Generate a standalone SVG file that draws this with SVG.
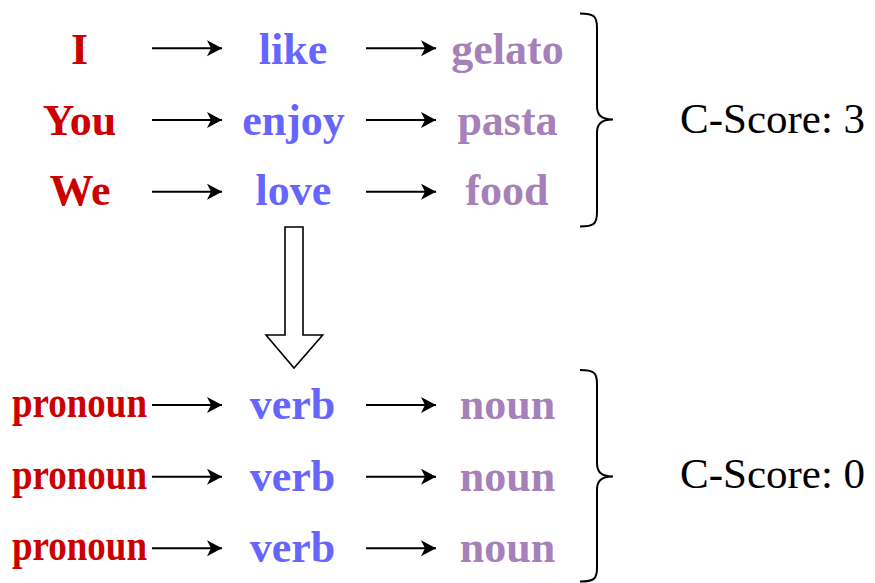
<svg xmlns="http://www.w3.org/2000/svg" width="875" height="583" viewBox="0 0 875 583">
<style>
text{font-family:"Liberation Serif","Times New Roman",serif;font-size:44px;text-anchor:middle}
.b{font-weight:bold}
.r{fill:#CC0000}
.u{fill:#6666FF}
.p{fill:#A680B8}
.s{fill:#000;font-size:43px;text-anchor:start}
.c{stroke:#000;stroke-width:2;fill:none;marker-end:url(#ah)}
.br{stroke:#000;stroke-width:2;fill:none}
</style>
<defs>
<marker id="ah" markerUnits="userSpaceOnUse" markerWidth="16" markerHeight="18" refX="15" refY="8" orient="auto">
<path d="M0,0 L15,8 L0,16 L4,8 Z" fill="#000"/>
</marker>
</defs>
<rect width="875" height="583" fill="#fff"/>
<g id="n-I"><text class="b r" x="79.5" y="63.5">I</text></g>
<g id="n-You"><text class="b r" x="79.5" y="134.5">You</text></g>
<g id="n-We"><text class="b r" x="80" y="205">We</text></g>
<g id="n-like"><text class="b u" x="293" y="63.5">like</text></g>
<g id="n-enjoy"><text class="b u" x="293.5" y="134.5">enjoy</text></g>
<g id="n-love"><text class="b u" x="293.5" y="205">love</text></g>
<g id="n-gelato"><text class="b p" x="507.5" y="63.5">gelato</text></g>
<g id="n-pasta"><text class="b p" x="507.5" y="134.5">pasta</text></g>
<g id="n-food"><text class="b p" x="507" y="205">food</text></g>
<g id="n-pronoun1"><text class="b r" x="79.5" y="417" textLength="135" lengthAdjust="spacingAndGlyphs">pronoun</text></g>
<g id="n-pronoun2"><text class="b r" x="79.5" y="488.5" textLength="135" lengthAdjust="spacingAndGlyphs">pronoun</text></g>
<g id="n-pronoun3"><text class="b r" x="79.5" y="560" textLength="135" lengthAdjust="spacingAndGlyphs">pronoun</text></g>
<g id="n-verb1"><text class="b u" x="292.5" y="419">verb</text></g>
<g id="n-verb2"><text class="b u" x="292.5" y="490.5">verb</text></g>
<g id="n-verb3"><text class="b u" x="292.5" y="562">verb</text></g>
<g id="n-noun1"><text class="b p" x="507.5" y="419">noun</text></g>
<g id="n-noun2"><text class="b p" x="507.5" y="490.5">noun</text></g>
<g id="n-noun3"><text class="b p" x="507.5" y="562">noun</text></g>
<g id="n-score3"><text class="s" x="680" y="132.5">C-Score: 3</text></g>
<g id="n-score0"><text class="s" x="680" y="487.5">C-Score: 0</text></g>
<g id="braces">
<path class="br" d="M580,13.5 C594,13.5 597,16 597,28 L597,106 C597,114 600,119.5 613,119.5 M613,119.5 C600,119.5 597,125 597,133 L597,212 C597,224 594,226.5 580,226.5"/>
<path class="br" d="M580,370 C594,370 597,372.5 597,384 L597,463 C597,471 600,476.5 613,476.5 M613,476.5 C600,476.5 597,482 597,490 L597,568 C597,579 594,581.5 580,581.5"/>
</g>
<g id="connectors">
<line class="c" x1="152" y1="48.3" x2="222" y2="48.3"/>
<line class="c" x1="152" y1="120" x2="222" y2="120"/>
<line class="c" x1="152" y1="191.7" x2="222" y2="191.7"/>
<line class="c" x1="366" y1="48.3" x2="436" y2="48.3"/>
<line class="c" x1="366" y1="120" x2="436" y2="120"/>
<line class="c" x1="366" y1="191.7" x2="436" y2="191.7"/>
<line class="c" x1="152" y1="405" x2="222" y2="405"/>
<line class="c" x1="152" y1="476.7" x2="222" y2="476.7"/>
<line class="c" x1="152" y1="548.3" x2="222" y2="548.3"/>
<line class="c" x1="366" y1="405" x2="436" y2="405"/>
<line class="c" x1="366" y1="476.7" x2="436" y2="476.7"/>
<line class="c" x1="366" y1="548.3" x2="436" y2="548.3"/>
<polygon points="285,227 303,227 303,335 322.7,335 294,368 266,335 285,335" fill="#fff" stroke="#000" stroke-width="1.6"/>
</g>
</svg>
